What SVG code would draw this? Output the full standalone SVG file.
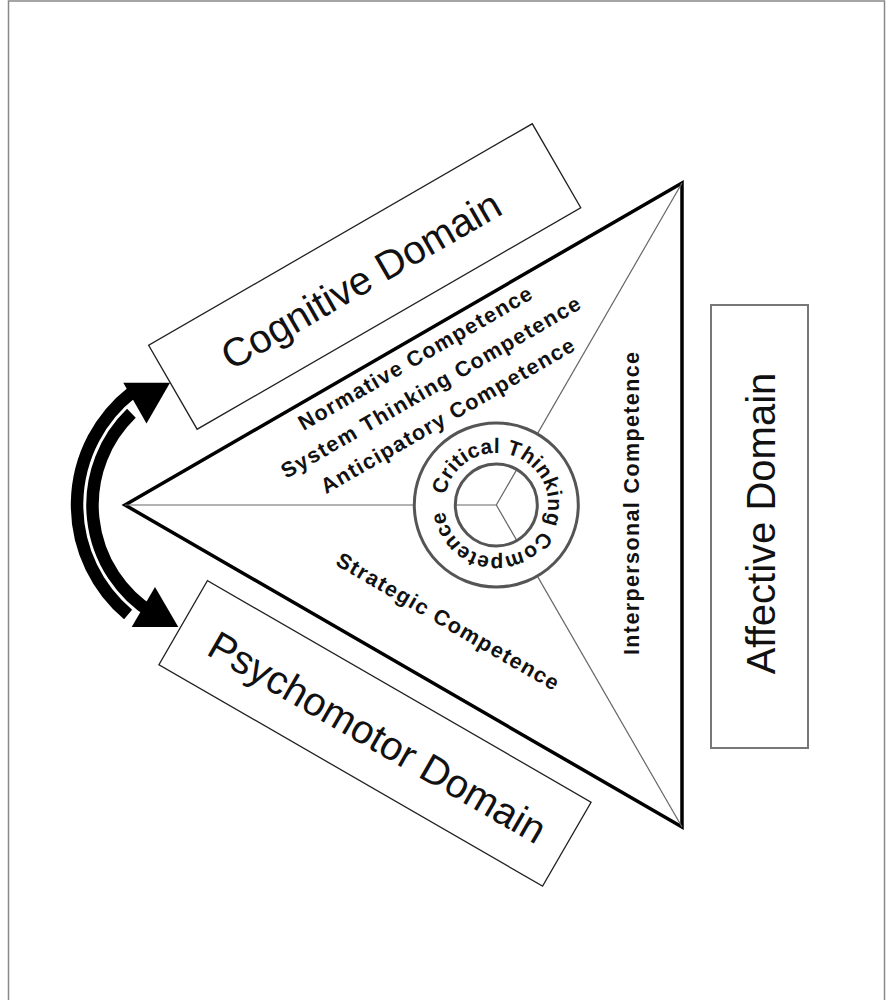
<svg xmlns="http://www.w3.org/2000/svg" width="886" height="1000" viewBox="0 0 886 1000">
<style>
.frame{fill:none;stroke:#888;stroke-width:1.5}
.box{fill:#fff;stroke:#222;stroke-width:1.3}
.abox{fill:#fff;stroke:#777;stroke-width:2}
.dom{font-family:"Liberation Sans",Arial,sans-serif;font-size:40px;fill:#111;text-anchor:middle}
.comp{font-family:"Liberation Sans",Arial,sans-serif;font-size:21.5px;font-weight:bold;fill:#111}
.ct{font-family:"Liberation Sans",Arial,sans-serif;font-size:21px;font-weight:bold;fill:#111;letter-spacing:0.5px}
.tri{fill:#fff;stroke:#000;stroke-width:3.5;stroke-linejoin:miter}
.spoke{stroke:#666;stroke-width:1.2;fill:none}
.ring{stroke:#555;stroke-width:3;fill:none}
.arc{fill:none;stroke:#000;stroke-width:12.5;stroke-linecap:butt}
.head{fill:#000}
</style>
<defs>
<path id="ctp" d="M445.25,495.08 A52,52 0 1 1 547.35,514.92 A52,52 0 1 1 445.25,495.08"/>
</defs>
<rect x="0" y="0" width="886" height="1000" fill="#fff"/>
<rect class="frame" x="8.5" y="1" width="876" height="1010"/>

<g id="triangle">
<polygon class="tri" points="125,505 682,183 682,827"/>
<line class="spoke" x1="496.3" y1="505" x2="125" y2="505"/>
<line class="spoke" x1="496.3" y1="505" x2="682" y2="183"/>
<line class="spoke" x1="496.3" y1="505" x2="682" y2="827"/>
<text id="normative" class="comp" transform="translate(303.6,430.9) rotate(-30)" textLength="266" lengthAdjust="spacing">Normative Competence</text>
<text id="system" class="comp" transform="translate(286.2,479.1) rotate(-30)" textLength="342" lengthAdjust="spacing">System Thinking Competence</text>
<text id="anticipatory" class="comp" transform="translate(326,494.2) rotate(-30)" textLength="289" lengthAdjust="spacing">Anticipatory Competence</text>
<text id="strategic" class="comp" transform="translate(334.5,564.5) rotate(30)" textLength="253" lengthAdjust="spacing">Strategic Competence</text>
<text id="interpersonal" class="comp" transform="translate(638.5,655) rotate(-90)" textLength="303" lengthAdjust="spacing">Interpersonal Competence</text>
</g>

<g id="critical-thinking">
<path d="M414.3,505 a82,82 0 1 0 164,0 a82,82 0 1 0 -164,0 Z M455.3,505 a41,41 0 1 0 82,0 a41,41 0 1 0 -82,0 Z" fill="#fff" fill-rule="evenodd"/>
<circle class="ring" cx="496.3" cy="505" r="82"/>
<circle class="ring" cx="496.3" cy="505" r="41"/>
<text class="ct"><textPath href="#ctp">Critical Thinking Competence</textPath></text>
</g>

<g id="cognitive" transform="translate(364.7,276.5) rotate(-30)">
<rect class="box" x="-221.5" y="-48.5" width="443" height="97"/>
<text class="dom" x="-5" y="15">Cognitive Domain</text>
</g>

<g id="psychomotor" transform="translate(375,733.4) rotate(30)">
<rect class="box" x="-221.5" y="-48.5" width="443" height="97"/>
<text class="dom" x="4" y="16">Psychomotor Domain</text>
</g>

<g id="affective" transform="translate(759.5,526.5) rotate(-90)">
<rect class="abox" x="-221.5" y="-48.5" width="443" height="97"/>
<text class="dom" x="3" y="15">Affective Domain</text>
</g>

<g id="connectors">
<path class="arc" d="M128.1,614.5 A143,143 0 0 1 132.0,392.3"/>
<path class="arc" d="M131.4,413.3 A127.5,127.5 0 0 0 152.4,613.1"/>
<polygon class="head" points="123.3,382.7 170,382.7 146.5,423.5"/>
<polygon class="head" points="131.7,627 178.3,627 155,587"/>
</g>
</svg>
